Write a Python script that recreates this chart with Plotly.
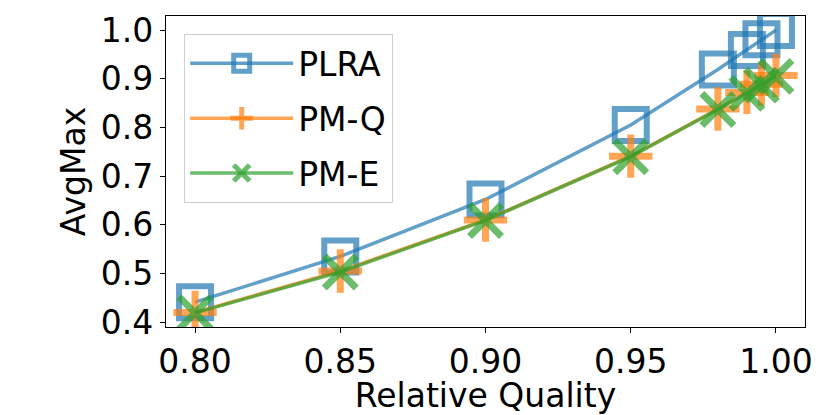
import plotly.graph_objects as go

# relative quality levels on the x axis
quality = [0.80, 0.85, 0.90, 0.95, 0.98, 0.99, 0.995, 1.00]

# AvgMax per method
plra = [0.441, 0.535, 0.652, 0.805, 0.919, 0.959, 0.981, 1.000]
pm_q = [0.420, 0.505, 0.610, 0.741, 0.838, 0.872, 0.889, 0.907]
pm_e = [0.419, 0.503, 0.609, 0.740, 0.837, 0.870, 0.887, 0.905]

x_ticks = [0.80, 0.85, 0.90, 0.95, 1.00]
y_ticks = [0.4, 0.5, 0.6, 0.7, 0.8, 0.9, 1.0]

FONT = "DejaVu Sans"

series = [
    ("PLRA", plra, "rgba(31,119,180,0.7)", "square-open", 32, 6),
    ("PM-Q", pm_q, "rgba(255,127,14,0.7)", "cross-thin-open", 31, 7),
    ("PM-E", pm_e, "rgba(44,160,44,0.7)", "x-thin-open", 32, 7),
]

fig = go.Figure()
for name, vals, color, symbol, size, mlw in series:
    fig.add_trace(
        go.Scatter(
            x=quality,
            y=vals,
            name=name,
            legendgroup=name,  # separate groups so tracegroupgap spaces the rows
            mode="lines+markers",
            line=dict(color=color, width=3.5),
            marker=dict(symbol=symbol, size=size, color=color,
                        line=dict(color=color, width=mlw)),
        )
    )

axis_common = dict(
    showline=True,
    mirror=True,
    linecolor="black",
    linewidth=1.3,
    ticks="outside",
    ticklen=5,
    tickwidth=1.3,
    tickcolor="black",
    showgrid=False,
    zeroline=False,
    tickfont=dict(family=FONT, size=33, color="black"),
)

fig.update_layout(
    width=830,
    height=415,
    margin=dict(l=166, r=25, t=16, b=88, autoexpand=False),
    plot_bgcolor="white",
    paper_bgcolor="white",
    font=dict(family=FONT, size=33, color="black"),
    xaxis=dict(
        axis_common,
        range=[0.79, 1.01],
        tickvals=x_ticks,
        tickformat=".2f",
        title=dict(text="Relative Quality", standoff=4,
                   font=dict(family=FONT, size=33)),
    ),
    yaxis=dict(
        axis_common,
        range=[0.39, 1.029],
        tickvals=y_ticks,
        tickformat=".1f",
        title=dict(text="AvgMax", standoff=5,
                   font=dict(family=FONT, size=33)),
    ),
    legend=dict(
        x=0.028,
        y=0.942,
        xanchor="left",
        yanchor="top",
        bgcolor="rgba(255,255,255,0.8)",
        bordercolor="#d0d0d0",
        borderwidth=1.3,
        font=dict(family=FONT, size=33),
        itemwidth=103,
        itemsizing="trace",
        tracegroupgap=9,
    ),
)

fig.write_html(
    "out.html",
    config={"displayModeBar": False},
    post_script="document.body.style.margin='0';",
)
